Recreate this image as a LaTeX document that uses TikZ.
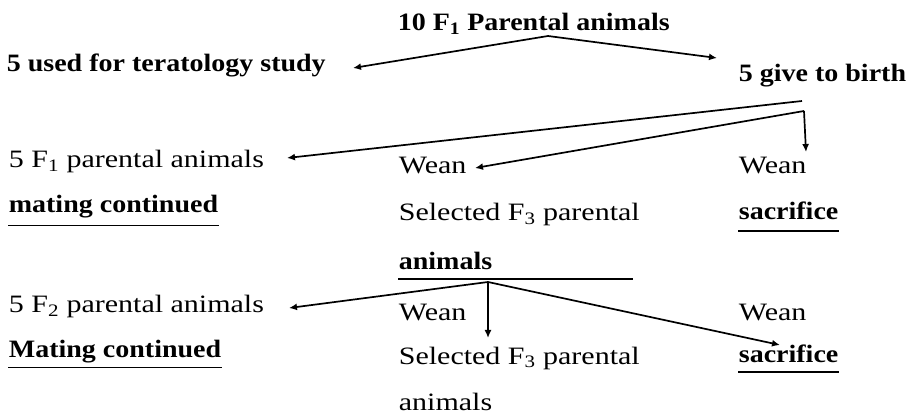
\documentclass[tikz,border=0pt]{standalone}
\usepackage{fontspec}
\setmainfont{Liberation Serif}[UprightFeatures={FakeStretch=1.2},BoldFeatures={FakeStretch=1.12}]
\usetikzlibrary{arrows.meta}

\begin{document}
\begin{tikzpicture}[x=1pt,y=-1pt,line width=1.7pt,
        >={Latex[length=8pt,width=7pt]},
        bodytxt/.style={anchor=base west,inner sep=0pt,font=\fontsize{25}{30}\selectfont},
        marktxt/.style={bodytxt,font=\fontsize{25}{30}\selectfont\bfseries}]
        \useasboundingbox (0,0) rectangle (915,419);
        % Parents
        \draw (397,31) node[marktxt](par) {10 F\textsubscript{1} Parental animals};
        \draw (6,72) node[marktxt](tera) {5 used for teratology study};
        \draw (738,82) node[marktxt](birth) {5 give to birth};
        \coordinate (j1) at (548,36);
        \coordinate (teratip) at (353,68);
        \coordinate (birthtip) at (717,58);
        \draw[->] (j1) -- (teratip);
        \draw[->] (j1) -- (birthtip);
        % First litter
        \draw (8,168) node[bodytxt](fone) {5 F\textsubscript{1} parental animals};
        \draw (8,213) node[marktxt](mateone) {mating continued};
        \draw (398,174) node[bodytxt](weanb) {Wean};
        \draw (398,221) node[bodytxt](selb) {Selected F\textsubscript{3} parental};
        \draw (398,270) node[marktxt](animb) {animals};
        \draw (738,174) node[bodytxt](weanc) {Wean};
        \draw (738,220) node[marktxt](sacc) {sacrifice};
        \draw ([yshift=-6pt]mateone.south west) -- ([yshift=-6pt]mateone.south east);
        \draw ([yshift=-10pt]sacc.south west) -- ([yshift=-10pt]sacc.south east);
        \coordinate (b1) at (802,101);
        \coordinate (b2) at (804,111);
        \coordinate (fonetip) at (287,158);
        \coordinate (weanbtip) at (475,168);
        \coordinate (weanctip) at (806,152);
        \draw[->] (b1) -- (fonetip);
        \draw[->] (b2) -- (weanbtip);
        \draw[->] (b2) -- (weanctip);
        % Second litter
        \coordinate (lineend) at (633,279);
        \draw (animb.south west |- lineend) -- (lineend);
        \draw (8,313) node[bodytxt](ftwo) {5 F\textsubscript{2} parental animals};
        \draw (8,357) node[marktxt](matetwo) {Mating continued};
        \draw (398,320) node[bodytxt](weanbb) {Wean};
        \draw (398,364) node[bodytxt](selbb) {Selected F\textsubscript{3} parental};
        \draw (398,410) node[bodytxt](animbb) {animals};
        \draw (738,320) node[bodytxt](weancc) {Wean};
        \draw (738,362) node[marktxt](saccc) {sacrifice};
        \draw ([yshift=-4pt]matetwo.south west) -- ([yshift=-4pt]matetwo.south east);
        \draw ([yshift=-9pt]saccc.south west) -- ([yshift=-9pt]saccc.south east);
        \coordinate (j2) at (488,282);
        \coordinate (ftwotip) at (289,308);
        \coordinate (weanbbtip) at (488,338);
        \coordinate (sacctip) at (780,345);
        \draw[->] (j2) -- (ftwotip);
        \draw[->] (j2) -- (weanbbtip);
        \draw[->] (j2) -- (sacctip);
    \end{tikzpicture}
\end{document}
